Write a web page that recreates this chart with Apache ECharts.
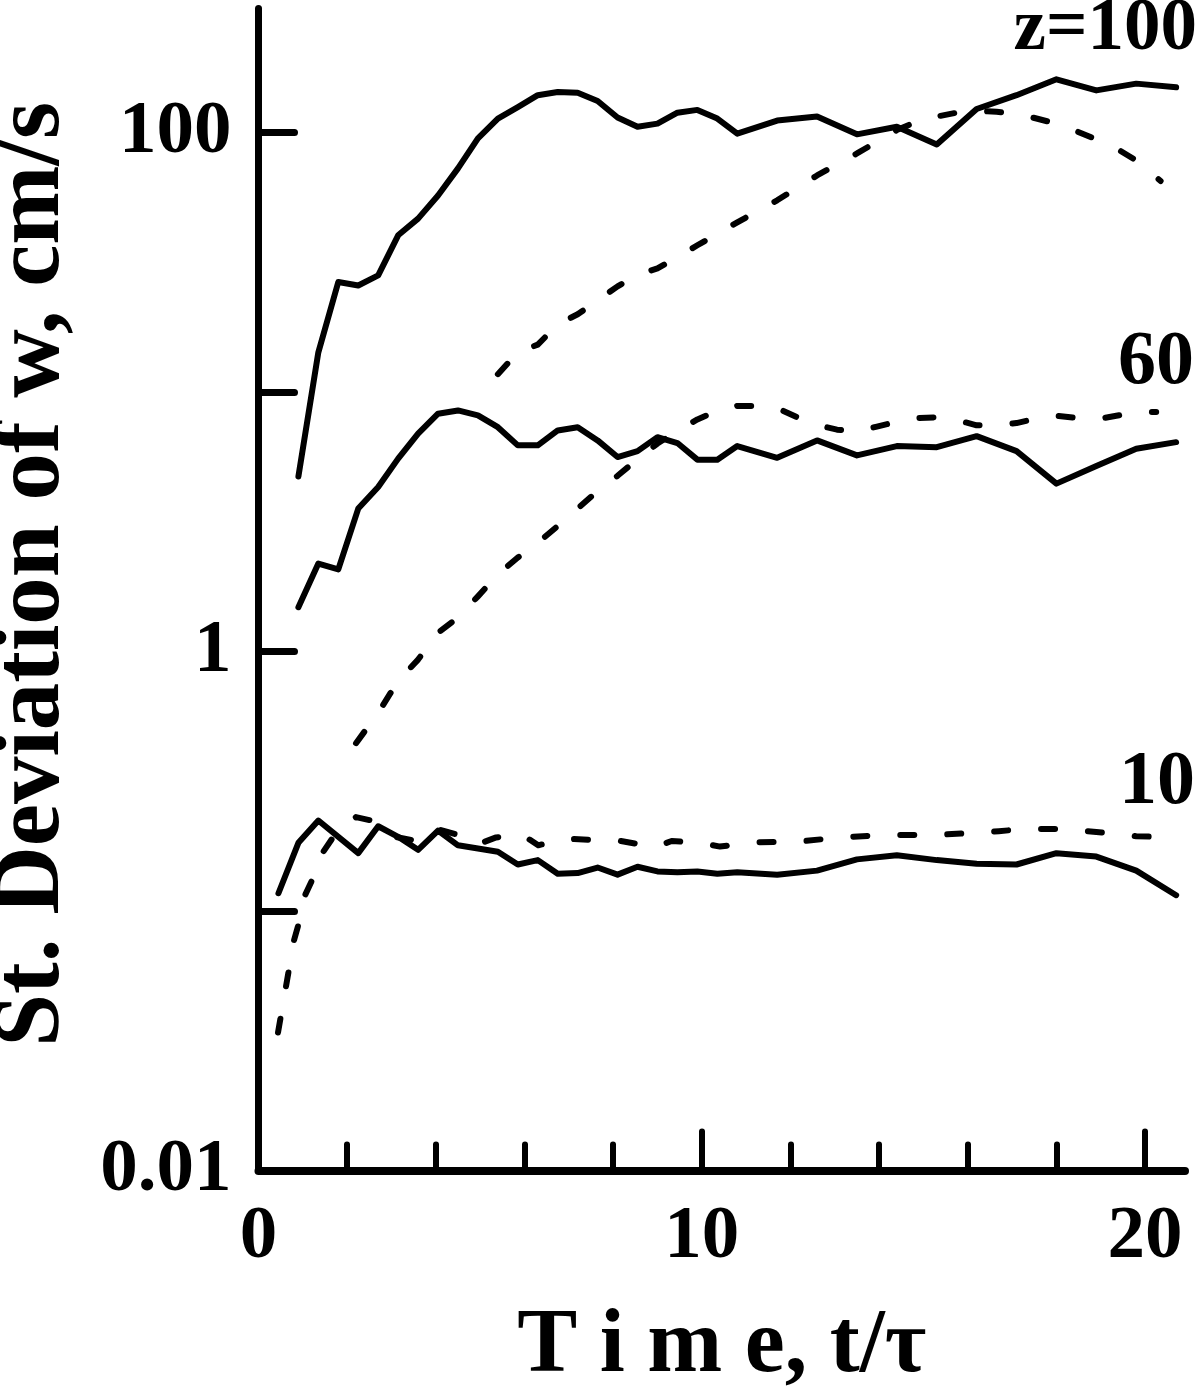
<!DOCTYPE html>
<html>
<head>
<meta charset="utf-8">
<title>St. Deviation of w</title>
<script src="https://cdn.jsdelivr.net/npm/echarts@6.0.0/dist/echarts.min.js"></script>
<style>
  html, body { margin: 0; padding: 0; background: #fff; }
  #chart { width: 1200px; height: 1396px; }
</style>
</head>
<body>
<div id="chart"></div>
<script>
// Values: time t/tau and st. deviation of w (cm/s)
// z = 100
const tSolid100 = [0.9, 1.35, 1.8, 2.25, 2.7, 3.15, 3.6, 4.05, 4.5, 4.95, 5.4, 5.85, 6.3, 6.75, 7.2, 7.65, 8.1, 8.55, 9.0, 9.45,
  9.9, 10.35, 10.8, 11.7, 12.6, 13.5, 14.4, 15.3, 16.2, 17.1, 18.0, 18.9, 19.8, 20.7];
const wSolid100 = [4.72, 14.2, 26.5, 25.7, 28.1, 40.1, 46.5, 57.1, 72.6, 94.8, 113, 125, 139, 143, 142, 132, 114, 105, 108, 119,
  122, 113, 98.8, 111, 115, 98.2, 105, 89.8, 123, 139, 160, 145, 154, 149];
const tDash100 = [5.4, 5.85, 6.3, 6.75, 7.2, 7.65, 8.1, 8.55, 9.0, 9.45, 9.9, 10.8, 11.7, 12.6, 13.5, 14.4, 14.85, 15.3, 15.75, 16.2,
  16.65, 17.1, 17.55, 18.0, 18.45, 18.9, 19.35, 19.8, 20.35];
const wDash100 = [11.7, 14.2, 15.2, 18.2, 19.9, 22.5, 25.5, 28.2, 29.9, 33.0, 36.7, 45.0, 54.7, 68.2, 82.9, 102, 110, 115, 119, 121,
  120, 118, 113, 108, 101, 93.9, 86.7, 77.9, 64.9];

// z = 60
const tSolid60 = [0.9, 1.35, 1.8, 2.25, 2.7, 3.15, 3.6, 4.05, 4.5, 4.95, 5.4, 5.85, 6.3, 6.75, 7.2, 7.65, 8.1, 8.55, 9.0, 9.45,
  9.9, 10.35, 10.8, 11.7, 12.6, 13.5, 14.4, 15.3, 16.2, 17.1, 18.0, 18.9, 19.8, 20.7];
const wSolid60 = [1.48, 2.18, 2.07, 3.55, 4.30, 5.53, 6.90, 8.24, 8.48, 8.12, 7.31, 6.22, 6.22, 7.10, 7.31, 6.50, 5.61, 5.91, 6.69, 6.35,
  5.48, 5.48, 6.18, 5.57, 6.50, 5.69, 6.18, 6.12, 6.75, 5.91, 4.43, 5.18, 6.04, 6.40];
const tDash60 = [2.2, 2.7, 3.15, 3.6, 4.05, 4.5, 4.95, 5.4, 5.85, 6.3, 6.75, 7.2, 7.65, 8.1, 8.55, 9.0, 9.45, 9.9, 10.35, 10.8,
  11.25, 11.7, 12.15, 12.6, 13.05, 13.5, 13.95, 14.4, 14.85, 15.3, 15.75, 16.2, 16.65, 17.1, 17.55, 18.0, 18.45, 18.9, 19.35, 19.8, 20.25];
const wDash60 = [0.443, 0.58, 0.77, 0.93, 1.18, 1.35, 1.63, 1.98, 2.30, 2.62, 3.04, 3.55, 4.15, 4.75, 5.5, 6.32, 7.08, 7.83, 8.45, 8.83,
  8.82, 8.66, 7.98, 7.46, 7.15, 7.03, 7.35, 7.67, 7.93, 7.98, 7.79, 7.43, 7.43, 7.58, 7.9, 8.09, 7.93, 7.84, 8.09, 8.36, 8.36];

// z = 10
const tSolid10 = [0.45, 0.9, 1.35, 2.25, 2.7, 3.15, 3.6, 4.05, 4.5, 4.95, 5.4, 5.85, 6.3, 6.75, 7.2, 7.65, 8.1, 8.55, 9.0, 9.45,
  9.9, 10.35, 10.8, 11.7, 12.6, 13.5, 14.4, 15.3, 16.2, 17.1, 18.0, 18.9, 19.8, 20.7];
const wSolid10 = [0.117, 0.183, 0.223, 0.167, 0.212, 0.193, 0.172, 0.204, 0.179, 0.174, 0.169, 0.151, 0.157, 0.139, 0.140, 0.147, 0.138, 0.148, 0.142, 0.141,
  0.142, 0.139, 0.141, 0.138, 0.143, 0.158, 0.164, 0.157, 0.152, 0.151, 0.167, 0.162, 0.143, 0.115];
const tDash10 = [0.44, 0.8, 0.92, 1.05, 1.24, 1.46, 1.69, 2.2, 2.55, 3.08, 3.5, 4.02, 4.43, 4.96, 5.36, 5.94, 6.31, 6.91, 7.5, 8.1,
  8.94, 9.32, 9.96, 10.41, 11.2, 12.2, 13.1, 14.1, 15.2, 16.2, 16.7, 17.3, 18.3, 18.7, 19.4, 19.8, 20.75];
const wDash10 = [0.034, 0.077, 0.091, 0.115, 0.135, 0.169, 0.193, 0.230, 0.223, 0.193, 0.187, 0.207, 0.198, 0.181, 0.192, 0.197, 0.179, 0.190, 0.188, 0.187,
  0.176, 0.186, 0.183, 0.177, 0.184, 0.185, 0.192, 0.196, 0.196, 0.200, 0.203, 0.207, 0.207, 0.203, 0.198, 0.194, 0.192];

// axis labels
const yTickLabels = ['0.01', '1', '100'];
const curveLabels = ['z=100', '60', '10'];

// layout (px)
const FONT = '"Liberation Serif", "Times New Roman", serif';
const X0 = 258.5;            // t = 0
const PX_PER_T = 44.33;
const Y0 = 1170.5;           // w = 0.01
const PX_PER_DECADE = 259.55;
const T_MAX = 20.9;
const W_MIN = 0.01, W_MAX = 300;

const decades = Math.log10(W_MAX / W_MIN);

const pairs = (t, w) => t.map((x, i) => [x, w[i]]);

function lineSeries(name, t, w, dashed) {
  return {
    name: name,
    type: 'line',
    xAxisIndex: 0,
    yAxisIndex: 0,
    data: pairs(t, w),
    symbol: 'none',
    silent: true,
    lineStyle: {
      color: '#000',
      width: 6,
      type: dashed ? [14, 33] : 'solid',
      cap: 'round',
      join: 'round'
    }
  };
}

const chart = echarts.init(document.getElementById('chart'), null, { renderer: 'canvas' });

chart.setOption({
  backgroundColor: '#fff',
  animation: false,
  grid: [
    // data grid: axis lines and curves
    {
      left: X0, top: Y0 - decades * PX_PER_DECADE,
      width: T_MAX * PX_PER_T, height: decades * PX_PER_DECADE,
      containLabel: false, outerBoundsMode: 'none'
    },
    // tick grid: ticks and labels on 0..20 and 0.01..100
    {
      left: X0, top: Y0 - 4 * PX_PER_DECADE,
      width: 20 * PX_PER_T, height: 4 * PX_PER_DECADE,
      containLabel: false, outerBoundsMode: 'none'
    }
  ],
  xAxis: [
    {
      gridIndex: 0, type: 'value', min: 0, max: T_MAX,
      name: 'T i m e, t/\u03c4', nameLocation: 'middle', nameGap: 132, nameMoveOverlap: false,
      nameTextStyle: { fontFamily: FONT, fontWeight: 'bold', fontSize: 90, color: '#000' },
      axisLine: { show: true, onZero: false, lineStyle: { color: '#000', width: 8, cap: 'round' } },
      axisTick: { show: false }, axisLabel: { show: false }, splitLine: { show: false }
    },
    {
      gridIndex: 1, type: 'value', min: 0, max: 20, interval: 10,
      axisLine: { show: false, onZero: false },
      axisTick: { show: true, inside: true, length: 39, lineStyle: { color: '#000', width: 6, cap: 'round' } },
      minorTick: { show: true, splitNumber: 5, length: 26, lineStyle: { color: '#000', width: 6, cap: 'round' } },
      axisLabel: { margin: 30, fontFamily: FONT, fontWeight: 'bold', fontSize: 75, color: '#000' },
      splitLine: { show: false }, minorSplitLine: { show: false }
    }
  ],
  yAxis: [
    {
      gridIndex: 0, type: 'log', logBase: 10, min: W_MIN, max: W_MAX,
      name: 'St. Deviation of w, cm/s', nameLocation: 'middle', nameGap: 178, nameMoveOverlap: false,
      nameTextStyle: { fontFamily: FONT, fontWeight: 'bold', fontSize: 95, color: '#000', padding: [0, 0, 0, 30] },
      axisLine: { show: true, onZero: false, lineStyle: { color: '#000', width: 7, cap: 'round' } },
      axisTick: { show: false }, axisLabel: { show: false }, splitLine: { show: false }
    },
    {
      gridIndex: 1, type: 'log', logBase: 10, min: 0.01, max: 100,
      axisLine: { show: false, onZero: false },
      axisTick: { show: true, inside: true, length: 36, lineStyle: { color: '#000', width: 7, cap: 'round' } },
      axisLabel: {
        margin: 27, fontFamily: FONT, fontWeight: 'bold', fontSize: 75, color: '#000',
        formatter: function (v) {
          const hit = yTickLabels.find(s => Math.abs(Number(s) - v) < Number(s) * 1e-6);
          return hit || '';
        }
      },
      splitLine: { show: false }
    }
  ],
  graphic: [
    { type: 'text', x: 1197, y: 67, silent: true,
      style: { text: curveLabels[0], fill: '#000', font: 'bold 73px ' + FONT, align: 'right', verticalAlign: 'bottom', textAlign: 'right', textVerticalAlign: 'bottom' } },
    { type: 'text', x: 1194, y: 401, silent: true,
      style: { text: curveLabels[1], fill: '#000', font: 'bold 76px ' + FONT, align: 'right', verticalAlign: 'bottom', textAlign: 'right', textVerticalAlign: 'bottom' } },
    { type: 'text', x: 1195, y: 821, silent: true,
      style: { text: curveLabels[2], fill: '#000', font: 'bold 76px ' + FONT, align: 'right', verticalAlign: 'bottom', textAlign: 'right', textVerticalAlign: 'bottom' } }
  ],
  series: [
    lineSeries('z=100 solid', tSolid100, wSolid100, false),
    lineSeries('z=100 dashed', tDash100, wDash100, true),
    lineSeries('z=60 solid', tSolid60, wSolid60, false),
    lineSeries('z=60 dashed', tDash60, wDash60, true),
    lineSeries('z=10 solid', tSolid10, wSolid10, false),
    lineSeries('z=10 dashed', tDash10, wDash10, true)
  ]
});

window.addEventListener('resize', () => chart.resize());
</script>
</body>
</html>
